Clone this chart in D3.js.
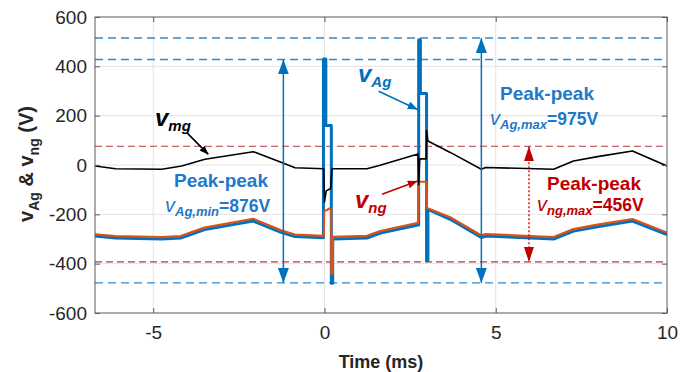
<!DOCTYPE html>
<html>
<head>
<meta charset="utf-8">
<script src="https://cdn.jsdelivr.net/npm/d3@7"></script>
<style>
  body { margin: 0; background: #fff; }
  text { font-family: Arial, "Liberation Sans", sans-serif; }
</style>
</head>
<body>
<div id="chart"></div>
<script>
var tAg = [-6.7, -6.1, -4.75, -4.2, -3.5, -2.08, -1.25, -0.86, -0.03, -0.03, 0.04, 0.04, 0.2, 0.2, 0.24, 0.24, 1.24, 1.63, 2.73, 2.75, 2.75, 2.8, 2.8, 2.98, 2.98, 3.02, 3.02, 3.67, 4.58, 4.7, 6.69, 7.27, 7.97, 8.99, 10];
var vAg = [-288, -296, -300, -296, -262, -227, -274, -290, -295, 430, 430, 160, 160, -479, -479, -300, -296, -276, -243, -243, 508, 508, 290, 290, -388, -388, -180, -220, -294, -288, -300, -268, -250, -227, -282];

var tNg = [-6.7, -6.1, -4.75, -4.2, -3.5, -2.08, -1.25, -0.86, -0.02, -0.01, 0.15, 0.2, 0.2, 0.24, 0.25, 1.24, 1.63, 2.73, 2.75, 2.97, 2.99, 3.67, 4.58, 4.7, 6.69, 7.27, 7.97, 8.99, 10];
var vNg = [-281, -288, -292, -288, -254, -218, -266, -282, -287, -188, -176, -178, -440, -440, -291, -287, -268, -234, -68, -68, -174, -212, -286, -280, -292, -260, -242, -219, -274];

var tMg = [-6.7, -6.1, -4.75, -4.17, -3.49, -2.08, -1.25, -0.86, -0.02, 0.0, 0.05, 0.18, 0.22, 1.24, 1.6, 2.73, 2.75, 2.78, 2.97, 2.98, 3.02, 3.67, 4.58, 4.7, 6.69, 7.27, 7.97, 8.99, 10];
var vMg = [-4, -15, -17, -4, 23, 54, 10, -11, -15, -150, -105, -95, -15, -15, -2, 45, -80, 25, 25, 140, 97, 51, -17, -10, -17, 16, 34, 57, -4];

var xTicks = [-5, 0, 5, 10];
var yTicks = [-600, -400, -200, 0, 200, 400, 600];

// reference levels (dashed)
var blueLevels = [515, 428, -478];
var redLevels = [76, -393];

var W = 695, H = 372;
var m = {left: 95, top: 17, right: 28, bottom: 59};
var pw = W - m.left - m.right, ph = H - m.top - m.bottom;

var blue = "#0072BD", orange = "#D95319", dred = "#C00000", txtBlue = "#1F78C8";

var x = d3.scaleLinear().domain([-6.7, 10]).range([0, pw]);
var y = d3.scaleLinear().domain([-600, 600]).range([ph, 0]);

var svg = d3.select("#chart").append("svg")
    .attr("width", W).attr("height", H);

var defs = svg.append("defs");
function marker(id, color, len, wid) {
  defs.append("marker")
      .attr("id", id)
      .attr("markerUnits", "userSpaceOnUse")
      .attr("markerWidth", len).attr("markerHeight", wid)
      .attr("refX", len).attr("refY", wid / 2)
      .attr("orient", "auto-start-reverse")
    .append("path")
      .attr("d", "M0,0L" + len + "," + (wid / 2) + "L0," + wid + "Z")
      .attr("fill", color);
}
marker("aBlue", blue, 15, 11);
marker("aRed", dred, 15, 10);
marker("aBlk", "#000", 9, 7);
marker("aBlueS", blue, 10, 8);
marker("aRedS", dred, 10, 8);

defs.append("clipPath").attr("id", "clip")
  .append("rect").attr("width", pw).attr("height", ph);

var g = svg.append("g").attr("transform", "translate(" + m.left + "," + m.top + ")");

//grid
g.append("g").selectAll("line").data(xTicks.slice(0, 3)).enter().append("line")
    .attr("x1", d => x(d)).attr("x2", d => x(d))
    .attr("y1", 0).attr("y2", ph)
    .attr("stroke", "#e3e3e3").attr("stroke-width", 1);
g.append("g").selectAll("line").data(yTicks.slice(1, 6)).enter().append("line")
    .attr("x1", 0).attr("x2", pw)
    .attr("y1", d => y(d)).attr("y2", d => y(d))
    .attr("stroke", "#e3e3e3").attr("stroke-width", 1);

// dashed reference levels
g.append("g").selectAll("line").data(blueLevels).enter().append("line")
    .attr("x1", 0).attr("x2", pw)
    .attr("y1", d => y(d)).attr("y2", d => y(d))
    .attr("stroke", "#2E8BD0").attr("stroke-width", 1.4)
    .attr("stroke-dasharray", "8,5");
g.append("g").selectAll("line").data(redLevels).enter().append("line")
    .attr("x1", 0).attr("x2", pw)
    .attr("y1", d => y(d)).attr("y2", d => y(d))
    .attr("stroke", "#B8383F").attr("stroke-width", 1.2)
    .attr("stroke-dasharray", "7,4");

// traces
var line = d3.line().x(d => x(d[0])).y(d => y(d[1]));
var plot = g.append("g").attr("clip-path", "url(#clip)");
plot.append("path").datum(d3.zip(tAg, vAg))
    .attr("d", line).attr("fill", "none")
    .attr("stroke", blue).attr("stroke-width", 3).attr("stroke-linejoin", "round");
plot.append("path").datum(d3.zip(tNg, vNg))
    .attr("d", line).attr("fill", "none")
    .attr("stroke", orange).attr("stroke-width", 2.2).attr("stroke-linejoin", "round");
plot.append("path").datum(d3.zip(tMg, vMg))
    .attr("d", line).attr("fill", "none")
    .attr("stroke", "#000").attr("stroke-width", 1.6).attr("stroke-linejoin", "round");

// axes box, ticks inside like matlab
var axisCol = "#5a5a5a";
g.append("rect").attr("width", pw).attr("height", ph)
    .attr("fill", "none").attr("stroke", axisCol).attr("stroke-width", 1);

var fmt = d => String(d);
var xa = g.append("g").attr("transform", "translate(0," + ph + ")")
    .call(d3.axisBottom(x).tickValues(xTicks).tickFormat(fmt).tickSizeInner(-5).tickSizeOuter(0).tickPadding(13));
var ya = g.append("g")
    .call(d3.axisLeft(y).tickValues(yTicks).tickFormat(fmt).tickSizeInner(-5).tickSizeOuter(0).tickPadding(8));
g.append("g").attr("transform", "translate(" + pw + ",0)")
    .call(d3.axisRight(y).tickValues(yTicks).tickSizeInner(-5).tickSizeOuter(0).tickFormat(""));
g.append("g")
    .call(d3.axisTop(x).tickValues(xTicks).tickSizeInner(-5).tickSizeOuter(0).tickFormat(""));
g.selectAll(".domain").remove();
g.selectAll(".tick line").attr("stroke", axisCol);
xa.selectAll("text").attr("font-size", 19).attr("fill", "#262626").attr("font-family", "Arial, Liberation Sans");
ya.selectAll("text").attr("font-size", 19).attr("fill", "#262626").attr("font-family", "Arial, Liberation Sans");

// axis titles
svg.append("text")
    .attr("x", m.left + pw / 2).attr("y", 368)
    .attr("text-anchor", "middle").attr("font-size", 18).attr("font-weight", "bold")
    .attr("fill", "#262626").text("Time (ms)");

var yt = svg.append("text")
    .attr("transform", "translate(33,164) rotate(-90)")
    .attr("text-anchor", "middle").attr("font-size", 20).attr("font-weight", "bold")
    .attr("fill", "#262626");
yt.append("tspan").text("v");
yt.append("tspan").attr("font-size", 14).attr("dy", 6).text("Ag");
yt.append("tspan").attr("dy", -6).text(" & v");
yt.append("tspan").attr("font-size", 14).attr("dy", 6).text("ng");
yt.append("tspan").attr("dy", -6).text(" (V)");

// annotation arrows
function arrow(x1, y1, x2, y2, col, w, mEnd, mStart, dash) {
  var l = g.append("line")
      .attr("x1", x(x1)).attr("y1", y(y1)).attr("x2", x(x2)).attr("y2", y(y2))
      .attr("stroke", col).attr("stroke-width", w)
      .attr("marker-end", "url(#" + mEnd + ")");
  if (mStart) l.attr("marker-start", "url(#" + mStart + ")");
  if (dash) l.attr("stroke-dasharray", dash);
}
arrow(-1.2, 428, -1.2, -478, blue, 1.5, "aBlue", "aBlue");
arrow(4.58, 515, 4.58, -478, blue, 1.5, "aBlue", "aBlue");
arrow(5.97, 76, 5.97, -393, dred, 1.3, "aRed", "aRed", "2,2");
arrow(-4.02, 131, -3.39, 43, "#000", 1.6, "aBlk");
arrow(1.58, 299, 2.72, 225, blue, 1.6, "aBlueS");
arrow(1.68, -119, 2.72, -65, dred, 1.6, "aRedS");

// labels
function sub(px, py, col, main, subTxt, rest, o) {
  var t = svg.append("text").attr("x", px).attr("y", py).attr("fill", col);
  t.append("tspan").attr("font-size", o.vs).attr("font-style", "italic")
      .attr("font-weight", o.vw).text(main);
  t.append("tspan").attr("font-size", o.ss).attr("font-style", "italic")
      .attr("font-weight", "bold").attr("dy", o.dy).text(subTxt);
  if (rest) t.append("tspan").attr("font-size", o.rs).attr("font-weight", "bold")
      .attr("dy", -o.dy).text(rest);
  return t;
}
var big = {vs: 24, vw: "bold", ss: 15, dy: 5};
sub(155, 126, "#000", "v", "mg", null, big);
sub(358, 82, blue, "v", "Ag", null, big);
sub(355, 208, dred, "v", "ng", null, big);

function peak(cx, py, col) {
  svg.append("text").attr("x", cx).attr("y", py).attr("text-anchor", "middle")
      .attr("font-size", 19).attr("font-weight", "bold").attr("fill", col).text("Peak-peak");
}
var val = {vs: 20, vw: "normal", ss: 13, dy: 4, rs: 17.5};
peak(221, 187, txtBlue);
sub(165, 212, txtBlue, "v", "Ag,min", "=876V", val);
peak(547, 100, txtBlue);
sub(490, 125, txtBlue, "v", "Ag,max", "=975V", val);
peak(594, 190, dred);
sub(537, 211, dred, "v", "ng,max", "=456V", val);
</script>
</body>
</html>
